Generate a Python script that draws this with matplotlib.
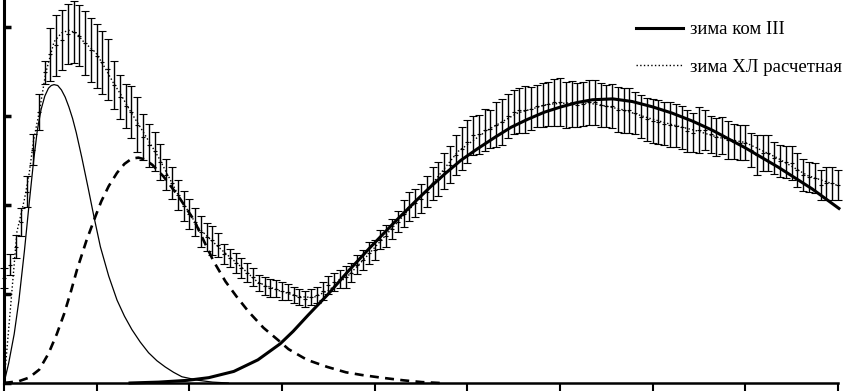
import numpy as np
import matplotlib
matplotlib.use("Agg")
import matplotlib.pyplot as plt

plt.rcParams['font.family'] = ['Liberation Serif', 'DejaVu Serif']

# experimental points (step 1/16 of a tick), mean and error
exp_step = 1 / 16
exp_mean = [1.18, 1.33, 1.53, 1.81, 2.15, 2.62, 3.04, 3.49, 3.69, 3.79,
            3.85, 3.92, 3.94, 3.90, 3.82, 3.74, 3.67, 3.60, 3.52, 3.35,
            3.21, 3.11, 3.04, 2.90, 2.76, 2.67, 2.60, 2.48, 2.34, 2.25,
            2.11, 1.99, 1.90, 1.81, 1.70, 1.64, 1.60, 1.55, 1.45, 1.40,
            1.35, 1.29, 1.24, 1.19, 1.12, 1.09, 1.07, 1.06, 1.03, 1.02,
            0.99, 0.97, 0.94, 0.97, 0.99, 1.03, 1.10, 1.13, 1.17, 1.19,
            1.24, 1.33, 1.38, 1.46, 1.49, 1.61, 1.65, 1.73, 1.81, 1.90,
            1.98, 2.02, 2.07, 2.15, 2.24, 2.29, 2.38, 2.45, 2.56, 2.63,
            2.71, 2.78, 2.79, 2.84, 2.85, 2.90, 2.93, 3.00, 3.04, 3.06,
            3.07, 3.08, 3.11, 3.12, 3.13, 3.15, 3.15, 3.12, 3.13, 3.12,
            3.13, 3.15, 3.15, 3.12, 3.11, 3.11, 3.07, 3.06, 3.06, 3.03,
            2.99, 2.96, 2.94, 2.93, 2.91, 2.90, 2.89, 2.87, 2.83, 2.81,
            2.84, 2.84, 2.79, 2.76, 2.78, 2.73, 2.71, 2.70, 2.70, 2.62,
            2.56, 2.58, 2.58, 2.53, 2.49, 2.48, 2.47, 2.39, 2.34, 2.31,
            2.30, 2.22, 2.24, 2.24, 2.22]
exp_err = [0.11, 0.12, 0.13, 0.16, 0.17, 0.17, 0.20, 0.13, 0.30, 0.34,
           0.34, 0.34, 0.35, 0.34, 0.36, 0.36, 0.36, 0.35, 0.34, 0.27,
           0.25, 0.25, 0.29, 0.31, 0.26, 0.24, 0.22, 0.20, 0.17, 0.18,
           0.17, 0.17, 0.17, 0.16, 0.17, 0.16, 0.16, 0.13, 0.11, 0.10,
           0.11, 0.11, 0.11, 0.10, 0.09, 0.10, 0.10, 0.10, 0.10, 0.09,
           0.09, 0.09, 0.09, 0.09, 0.09, 0.10, 0.10, 0.10, 0.10, 0.12,
           0.11, 0.11, 0.11, 0.12, 0.11, 0.11, 0.12, 0.11, 0.12, 0.15,
           0.16, 0.16, 0.16, 0.17, 0.18, 0.19, 0.20, 0.21, 0.22, 0.24,
           0.24, 0.22, 0.22, 0.24, 0.21, 0.25, 0.26, 0.25, 0.25, 0.25,
           0.26, 0.24, 0.24, 0.25, 0.25, 0.26, 0.27, 0.26, 0.26, 0.25,
           0.25, 0.25, 0.25, 0.25, 0.24, 0.25, 0.25, 0.25, 0.25, 0.24,
           0.24, 0.24, 0.25, 0.25, 0.24, 0.25, 0.24, 0.24, 0.24, 0.22,
           0.26, 0.22, 0.21, 0.21, 0.21, 0.21, 0.20, 0.20, 0.20, 0.19,
           0.22, 0.20, 0.20, 0.18, 0.18, 0.18, 0.19, 0.19, 0.18, 0.17,
           0.17, 0.17, 0.18, 0.18, 0.17]
exp_x = np.arange(len(exp_mean)) * exp_step

# component I (thin solid)
c1_x = [0, 0.05, 0.11, 0.16, 0.22, 0.27, 0.32, 0.36, 0.40, 0.44, 0.48,
        0.51, 0.54, 0.58, 0.62, 0.66, 0.70, 0.74, 0.78, 0.84, 0.91,
        0.97, 1.04, 1.13, 1.22, 1.30, 1.38, 1.47, 1.56, 1.65, 1.74,
        1.83, 1.92, 2.01, 2.10, 2.25, 2.42]
c1_y = [0, 0.22, 0.55, 0.92, 1.48, 2.00, 2.50, 2.84, 3.07, 3.22, 3.31,
        3.34, 3.35, 3.34, 3.29, 3.21, 3.10, 2.97, 2.81, 2.53, 2.18,
        1.87, 1.53, 1.20, 0.93, 0.75, 0.60, 0.46, 0.34, 0.25, 0.18,
        0.12, 0.07, 0.05, 0.03, 0.01, 0.0]

# component II (dashed)
c2_x = [0, 0.16, 0.27, 0.38, 0.48, 0.57, 0.65, 0.72, 0.79, 0.89, 0.99,
        1.05, 1.13, 1.22, 1.30, 1.38, 1.45, 1.52, 1.60, 1.72, 1.88,
        2.05, 2.15, 2.26, 2.39, 2.51, 2.64, 2.80, 2.96, 3.07, 3.27,
        3.49, 3.69, 3.86, 4.07, 4.31, 4.51, 4.71]
c2_y = [0, 0.02, 0.06, 0.15, 0.33, 0.55, 0.78, 1.02, 1.28, 1.60, 1.88,
        2.04, 2.21, 2.36, 2.46, 2.52, 2.53, 2.51, 2.45, 2.32, 2.10,
        1.83, 1.61, 1.37, 1.14, 0.97, 0.80, 0.62, 0.48, 0.38, 0.26,
        0.18, 0.12, 0.09, 0.06, 0.03, 0.01, 0.0]

# component III (thick solid)
c3_x = [1.36, 1.67, 1.98, 2.21, 2.48, 2.74, 2.98, 3.12, 3.28, 3.50,
        3.71, 3.95, 4.20, 4.45, 4.60, 4.76, 4.93, 5.11, 5.30, 5.47,
        5.65, 5.83, 6.01, 6.19, 6.35, 6.57, 6.78, 7.00, 7.21, 7.43,
        7.64, 8.00, 8.36, 8.72, 9.01]
c3_y = [0, 0.01, 0.03, 0.06, 0.13, 0.26, 0.44, 0.58, 0.76, 1.00,
        1.25, 1.52, 1.79, 2.05, 2.20, 2.35, 2.50, 2.63, 2.76, 2.87,
        2.96, 3.04, 3.10, 3.15, 3.18, 3.19, 3.16, 3.10, 3.03, 2.94,
        2.84, 2.64, 2.42, 2.18, 1.96]

# calculated sum (dotted)
calc_x = [0, 0.05, 0.14, 0.22, 0.27, 0.32, 0.38, 0.45, 0.54, 0.62, 0.70,
          0.78, 0.86, 0.99, 1.10, 1.18, 1.26, 1.37, 1.49, 1.67, 1.88,
          2.10, 2.31, 2.53, 2.74, 2.96, 3.18, 3.34, 3.50, 3.71, 3.93,
          4.25, 4.57, 4.90, 5.22, 5.54, 5.87, 6.19, 6.40, 6.67, 6.94,
          7.21, 7.48, 7.70, 8.00, 8.34, 8.67, 8.99]
calc_y = [0, 0.60, 1.70, 2.06, 2.34, 2.73, 3.04, 3.48, 3.83, 3.93, 3.96,
          3.93, 3.83, 3.71, 3.52, 3.37, 3.24, 3.04, 2.84, 2.53, 2.11,
          1.74, 1.53, 1.33, 1.13, 1.04, 0.97, 0.96, 1.04, 1.20, 1.44,
          1.81, 2.17, 2.60, 2.84, 3.03, 3.13, 3.15, 3.13, 3.07, 2.98,
          2.90, 2.83, 2.76, 2.70, 2.53, 2.33, 2.22]

fig = plt.figure(figsize=(8.61, 3.91), dpi=100)
ax = fig.add_axes([4 / 861, 8 / 391, 834 / 861, 383 / 391])

ax.errorbar(exp_x, exp_mean, yerr=exp_err, fmt='+', ms=3, mew=0.8,
            color='k', ecolor='k', elinewidth=1.0, capsize=2.8,
            capthick=1.8, clip_on=False, zorder=3)
ax.plot(c1_x, c1_y, color='k', lw=0.9, clip_on=False)
ax.plot(c2_x, c2_y, color='k', lw=1.9, dashes=(3.4, 2.4), clip_on=False)
ax.plot(c3_x, c3_y, color='k', lw=2.2, clip_on=False, label='зима ком III')
ax.plot(calc_x, calc_y, color='k', lw=1.0, ls=':', clip_on=False,
        label='зима ХЛ расчетная')

ax.set_xlim(0, 9)
ax.set_ylim(0, 4.3)
ax.set_xticks(range(10))
ax.set_yticks(range(5))
ax.set_xticklabels([])
ax.set_yticklabels([])
ax.tick_params(axis='x', direction='out', length=6, width=1.5)
ax.tick_params(axis='y', direction='in', length=5, width=2.5)
for s in ['top', 'right']:
    ax.spines[s].set_visible(False)
ax.spines['left'].set_linewidth(2.2)
ax.spines['bottom'].set_linewidth(1.8)

ax.legend(loc='upper left', bbox_to_anchor=(636 / 861, 1 - 21 / 391),
          bbox_transform=fig.transFigure, frameon=False, fontsize=13.5,
          borderpad=0, borderaxespad=0, handlelength=2.5,
          handletextpad=0.4, labelspacing=1.1)

fig.savefig('out.png', dpi=100)
